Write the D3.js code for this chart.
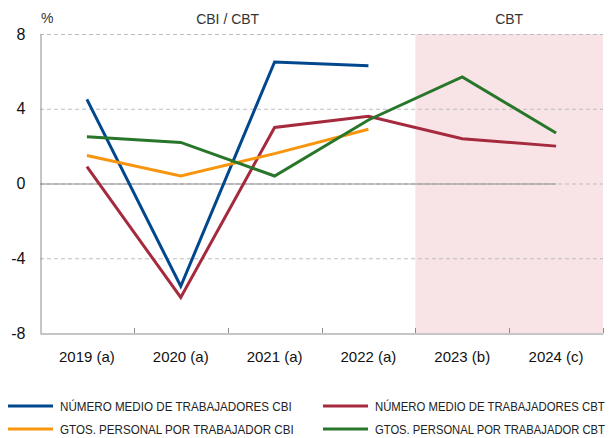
<!DOCTYPE html>
<html>
<head>
<meta charset="utf-8">
<script src="https://cdn.jsdelivr.net/npm/d3@7"></script>
<style>
	body { margin: 0; background: #fff; }
	svg { display: block; font-family: "Liberation Sans", Arial, sans-serif; }
</style>
</head>
<body>
<svg width="615" height="438"></svg>
<script>
const years = ["2019 (a)", "2020 (a)", "2021 (a)", "2022 (a)", "2023 (b)", "2024 (c)"];
const y_ticks = [-8, -4, 0, 4, 8];
const shaded_years = ["2023 (b)", "2024 (c)"];

// null = no data
const empleo_cbi = [4.5, -5.5, 6.5, 6.3, null, null];
const empleo_cbt = [0.9, -6.1, 3.0, 3.6, 2.4, 2.0];
const gasto_cbi = [1.5, 0.4, 1.6, 2.9, null, null];
const gasto_cbt = [2.5, 2.2, 0.4, 3.4, 5.7, 2.7];

const series_names = [
	"NÚMERO MEDIO DE TRABAJADORES CBI",
	"NÚMERO MEDIO DE TRABAJADORES CBT",
	"GTOS. PERSONAL POR TRABAJADOR CBI",
	"GTOS. PERSONAL POR TRABAJADOR CBT"
];
const series_values = [empleo_cbi, empleo_cbt, gasto_cbi, gasto_cbt];
const colors = ["#00478d", "#a52a3e", "#f7950f", "#28762a"];

const plot_left = 40;
const plot_right = 603;
const plot_top = 34;
const plot_bottom = 333;

const svg = d3.select("svg");

const x = d3.scaleBand()
	.domain(years)
	.range([plot_left, plot_right]);

const y = d3.scaleLinear()
	.domain([-8, 8])
	.range([plot_bottom, plot_top]);

// shaded forecast area
svg.append("rect")
	.attr("x", x(shaded_years[0]))
	.attr("y", plot_top)
	.attr("width", plot_right - x(shaded_years[0]))
	.attr("height", plot_bottom - plot_top)
	.attr("fill", "#f8e4e7");

// grid
svg.append("g")
	.selectAll("line")
	.data(y_ticks.filter((d) => d != -8))
	.join("line")
	.attr("x1", plot_left)
	.attr("x2", plot_right)
	.attr("y1", (d) => y(d) + 0.5)
	.attr("y2", (d) => y(d) + 0.5)
	.attr("stroke", "#bdbdbd")
	.attr("stroke-width", 1)
	.attr("stroke-dasharray", "4,3");

// zero line (solid up to last category)
svg.append("line")
	.attr("x1", plot_left)
	.attr("x2", x(years[years.length - 1]) + x.bandwidth() / 2)
	.attr("y1", y(0) + 0.5)
	.attr("y2", y(0) + 0.5)
	.attr("stroke", "#8c8c8c")
	.attr("stroke-width", 1);

// axes
const y_axis = d3.axisLeft(y).tickValues(y_ticks).tickSize(0).tickPadding(15);
const gy = svg.append("g")
	.attr("transform", "translate(" + (plot_left + 0.5) + ",0)")
	.call(y_axis);
gy.select(".domain").attr("stroke", "#8c8c8c");
gy.selectAll("text")
	.attr("font-size", 16)
	.attr("fill", "#111")
	.attr("font-family", "Liberation Sans, Arial, sans-serif")
	.text((d) => d);

const x_axis = d3.axisBottom(x).tickSize(0).tickPadding(18).tickSizeOuter(0);
const gx = svg.append("g")
	.attr("transform", "translate(0," + (plot_bottom + 0.5) + ")")
	.call(x_axis);
gx.select(".domain").attr("stroke", "#8c8c8c");
gx.selectAll(".tick line").remove();
gx.selectAll("text")
	.attr("font-size", 15)
	.attr("fill", "#111")
	.attr("font-family", "Liberation Sans, Arial, sans-serif");

// tick marks at band edges
const edges = years.map((d) => x(d)).slice(1).concat([plot_right]);
svg.append("g")
	.selectAll("line")
	.data(edges)
	.join("line")
	.attr("x1", (d) => Math.round(d) + 0.5)
	.attr("x2", (d) => Math.round(d) + 0.5)
	.attr("y1", plot_bottom - 5)
	.attr("y2", plot_bottom)
	.attr("stroke", "#8c8c8c");

// titles
svg.append("text").attr("x", 41).attr("y", 23).attr("font-size", 14).attr("fill", "#333").text("%");
svg.append("text").attr("x", x(years[2])).attr("y", 24).attr("text-anchor", "middle")
	.attr("font-size", 14).attr("fill", "#333").text("CBI / CBT");
svg.append("text").attr("x", x(years[5])).attr("y", 24).attr("text-anchor", "middle")
	.attr("font-size", 14).attr("fill", "#333").text("CBT");

// lines
const line = d3.line()
	.defined((d) => d.v !== null)
	.x((d) => x(d.year) + x.bandwidth() / 2)
	.y((d) => y(d.v));

series_values.forEach((values, i) => {
	const pts = years.map((yr, j) => ({ year: yr, v: values[j] }));
	svg.append("path")
		.datum(pts)
		.attr("d", line)
		.attr("fill", "none")
		.attr("stroke", colors[i])
		.attr("stroke-width", 3);
});

// legend (text squeezed horizontally to look condensed)
const legend_pos = [
	{ x: 8, y: 406 },
	{ x: 323, y: 406 },
	{ x: 8, y: 429 },
	{ x: 323, y: 429 }
];
const legend_widths = [232, 230, 234, 230];
series_names.forEach((name, i) => {
	const p = legend_pos[i];
	svg.append("line")
		.attr("x1", p.x)
		.attr("x2", p.x + 45)
		.attr("y1", p.y)
		.attr("y2", p.y)
		.attr("stroke", colors[i])
		.attr("stroke-width", 3);
	const t = svg.append("text")
		.attr("font-size", 12.5)
		.attr("fill", "#222")
		.attr("font-family", "Liberation Sans, Arial, sans-serif")
		.text(name);
	const natural = t.node().getComputedTextLength();
	const sx = legend_widths[i] / natural;
	t.attr("transform", "translate(" + (p.x + 52) + "," + (p.y + 4.5) + ") scale(" + sx + ",1)");
});
</script>
</body>
</html>
